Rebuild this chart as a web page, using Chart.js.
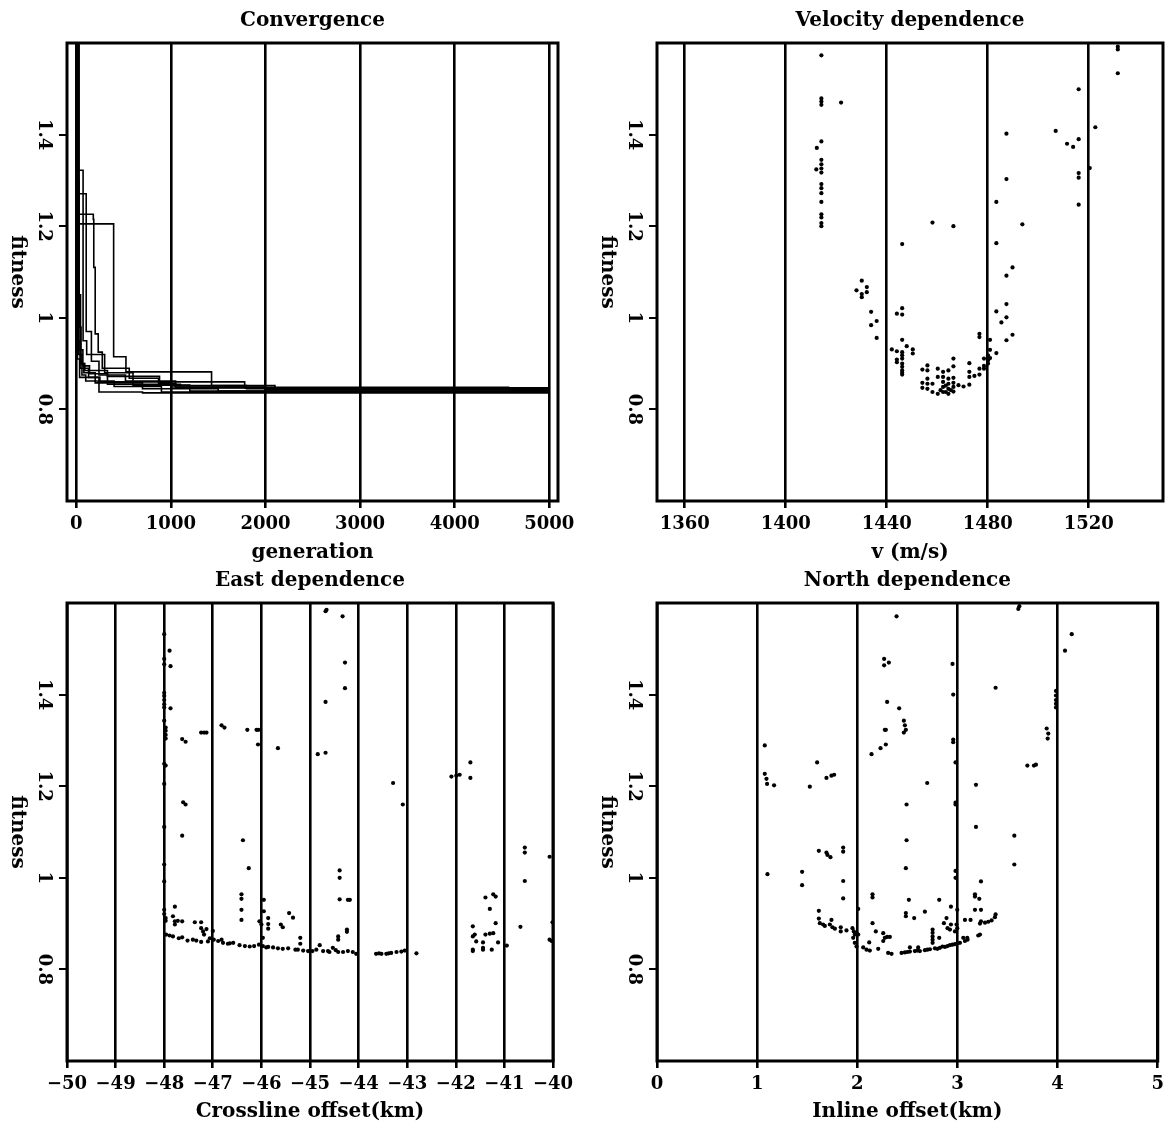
<!DOCTYPE html>
<html>
<head>
<meta charset="utf-8">
<script src="https://cdn.jsdelivr.net/npm/chart.js@4.4.1/dist/chart.umd.min.js"></script>
<style>
body { margin: 0; background: #fff; width: 1168px; height: 1126px; position: relative; overflow: hidden; }
canvas { position: absolute; }
</style>
</head>
<body>
<canvas id="conv" width="584" height="563" style="left:0;top:0"></canvas>
<canvas id="vel" width="578" height="563" style="left:590px;top:0"></canvas>
<canvas id="east" width="584" height="566" style="left:0;top:560px"></canvas>
<canvas id="north" width="580" height="566" style="left:590px;top:560px"></canvas>
<script>
// fitness axis, shared by all four panels
var fitTicks = [0.8, 1, 1.2, 1.4];
var fitLabels = ['0.8', '1', '1.2', '1.4'];

// Convergence: [generation, best fitness] for each run (steps)
var run1 = [[0, 2.2], [10, 1.205], [395, 0.915], [525, 0.882], [1430, 0.852], [1800, 0.845], [5000, 0.845]];
var run2 = [[0, 2.2], [8, 1.226], [180, 1.215], [185, 1.11], [200, 0.965], [232, 0.925], [275, 0.89], [560, 0.868], [870, 0.857], [1050, 0.852], [2100, 0.846], [5000, 0.846]];
var run3 = [[0, 2.2], [5, 1.322], [72, 0.95], [110, 0.92], [300, 0.88], [600, 0.86], [1780, 0.847], [5000, 0.847]];
var run4 = [[0, 2.2], [6, 1.271], [105, 0.97], [160, 0.905], [240, 0.875], [520, 0.862], [1050, 0.848], [4570, 0.842], [5000, 0.842]];
var run5 = [[0, 2.2], [20, 1.05], [45, 0.9], [90, 0.885], [330, 0.872], [880, 0.858], [1000, 0.849], [2000, 0.843], [5000, 0.843]];
var run6 = [[0, 2.2], [15, 0.95], [40, 0.89], [130, 0.87], [250, 0.86], [600, 0.853], [1200, 0.84], [5000, 0.84]];
var run7 = [[0, 2.2], [25, 0.92], [60, 0.875], [100, 0.862], [400, 0.85], [900, 0.838], [5000, 0.838]];
var run8 = [[0, 2.2], [12, 0.91], [35, 0.87], [240, 0.838], [700, 0.836], [5000, 0.836]];
var run9 = [[0, 2.2], [30, 0.98], [50, 0.9], [80, 0.88], [200, 0.858], [700, 0.845], [1500, 0.84], [5000, 0.84]];
var run10 = [[0, 2.2], [18, 1.3], [28, 0.93], [70, 0.895], [140, 0.878], [330, 0.855], [1100, 0.847], [4570, 0.844], [5000, 0.844]];
var genTicks = [0, 1000, 2000, 3000, 4000, 5000];
var genLabels = ['0', '1000', '2000', '3000', '4000', '5000'];

// Velocity dependence: [v (m/s), fitness]
var velPts = [[1414.1,1.573],[1414.1,1.479],[1414.1,1.472],[1414.1,1.465],[1421.9,1.470],[1414.1,1.385],[1412.3,1.371],
  [1414.1,1.345],[1414.1,1.335],[1414.1,1.326],[1414.1,1.317],[1412.1,1.324],[1414.1,1.292],[1414.1,1.283],[1414.1,1.272],
  [1414.1,1.253],[1414.1,1.226],[1414.1,1.219],[1414.1,1.207],[1414.1,1.200],[1446.1,1.161],[1458.1,1.208],[1466.4,1.200],
  [1430.1,1.081],[1428.0,1.060],[1430.1,1.052],[1430.1,1.045],[1432.1,1.067],[1432.1,1.056],[1433.8,1.013],[1433.8,0.984],
  [1436.0,0.993],[1436.0,0.956],[1444.0,1.009],[1446.1,1.021],[1446.1,1.007],[1446.1,0.952],[1442.0,0.931],[1444.0,0.927],
  [1444.0,0.909],[1444.0,0.903],[1446.1,0.925],[1446.1,0.918],[1446.1,0.911],[1446.1,0.900],[1446.1,0.893],[1446.1,0.885],
  [1446.1,0.880],[1446.1,0.876],[1447.9,0.938],[1450.3,0.931],[1450.3,0.922],[1454.1,0.887],[1456.1,0.896],[1456.1,0.885],
  [1454.1,0.858],[1454.1,0.847],[1456.1,0.867],[1456.1,0.856],[1456.1,0.845],[1458.1,0.856],[1458.1,0.838],[1460.2,0.889],
  [1460.2,0.871],[1460.2,0.834],[1462.3,0.882],[1462.3,0.871],[1462.3,0.860],[1462.3,0.849],[1462.3,0.838],[1464.4,0.885],
  [1464.4,0.867],[1464.4,0.856],[1464.4,0.845],[1464.4,0.834],[1466.4,0.911],[1466.4,0.894],[1466.4,0.869],[1466.4,0.858],
  [1466.4,0.849],[1466.4,0.839],[1468.4,0.853],[1470.4,0.850],[1472.7,0.901],[1472.7,0.882],[1472.7,0.871],[1472.7,0.854],
  [1474.7,0.873],[1476.7,0.965],[1476.7,0.958],[1476.7,0.889],[1476.7,0.876],[1478.5,0.911],[1478.5,0.895],[1478.5,0.889],
  [1480.1,0.918],[1480.1,0.907],[1480.1,0.900],[1480.9,0.952],[1480.9,0.930],[1480.9,0.912],[1483.4,1.253],[1483.4,1.163],
  [1483.4,1.014],[1483.4,0.923],[1485.4,0.990],[1487.4,1.402],[1487.4,1.303],[1487.4,1.092],[1487.4,1.030],[1487.4,1.001],
  [1487.4,0.951],[1489.8,1.110],[1489.8,0.963],[1493.7,1.204],[1506.9,1.408],[1511.4,1.380],[1513.8,1.373],[1516.0,1.499],
  [1516.0,1.390],[1516.0,1.316],[1516.0,1.306],[1516.0,1.247],[1520.4,1.327],[1522.6,1.416],[1531.5,1.592],[1531.5,1.586],
  [1531.5,1.534],[1461.3,0.842],[1463.4,0.852],[1465.4,0.842],[1463.4,0.838]];
var velTicks = [1360, 1400, 1440, 1480, 1520];
var velLabels = ['1360', '1400', '1440', '1480', '1520'];

// East dependence: [crossline offset (km), fitness]
var eastPts = [[-48.00,1.532],[-48.00,1.478],[-48.00,1.466],[-47.89,1.496],[-47.87,1.462],[-48.00,1.404],[-48.00,1.397],
  [-48.00,1.388],[-48.00,1.379],[-48.00,1.372],[-47.87,1.370],[-48.00,1.343],[-47.97,1.328],[-47.97,1.321],[-47.97,1.312],
  [-47.97,1.304],[-48.00,1.249],[-47.97,1.245],[-48.00,1.205],[-48.00,1.111],[-48.00,1.029],[-48.00,0.992],[-48.00,0.930],
  [-48.00,0.921],[-47.97,0.912],[-47.97,0.906],[-47.78,0.937],[-47.82,0.916],[-47.78,0.905],[-47.78,0.898],[-47.72,0.906],
  [-47.63,0.905],[-47.96,0.876],[-47.89,0.874],[-47.82,0.872],[-47.63,1.303],[-47.56,1.297],[-47.61,1.165],[-47.56,1.160],
  [-47.63,1.092],[-47.63,0.870],[-47.52,0.863],[-47.41,0.865],[-47.34,0.863],[-47.37,0.903],[-47.24,0.903],[-47.24,0.890],
  [-47.20,0.883],[-47.18,0.876],[-47.24,0.860],[-47.24,1.317],[-47.18,1.317],[-47.13,1.317],[-47.13,0.888],[-47.00,0.884],
  [-47.06,0.868],[-46.98,0.865],[-46.89,0.862],[-46.82,0.865],[-46.79,0.858],[-46.69,0.856],[-46.58,0.858],[-46.45,0.853],
  [-46.34,0.851],[-46.24,0.850],[-46.82,1.333],[-46.76,1.328],[-46.29,1.323],[-46.10,1.323],[-46.06,1.323],[-46.07,1.291],
  [-46.38,1.082],[-46.26,1.021],[-46.41,0.964],[-46.41,0.954],[-46.41,0.930],[-46.41,0.908],[-46.04,0.905],[-46.00,0.898],
  [-45.95,0.952],[-45.95,0.927],[-45.86,0.912],[-45.86,0.899],[-45.86,0.889],[-45.97,0.869],[-46.05,0.854],[-45.97,0.851],
  [-45.86,0.849],[-45.76,0.848],[-45.66,0.846],[-45.56,0.845],[-45.45,0.846],[-45.66,1.283],[-45.60,0.898],[-45.56,0.892],
  [-45.43,0.923],[-45.35,0.913],[-45.20,0.869],[-45.20,0.856],[-45.25,0.843],[-45.14,0.841],[-45.04,0.840],[-44.84,1.270],
  [-44.68,1.273],[-44.68,1.384],[-44.66,1.585],[-44.68,1.582],[-44.33,1.571],[-44.28,1.470],[-44.28,1.414],[-44.87,0.843],
  [-44.80,0.853],[-44.73,0.840],[-44.63,0.840],[-44.53,0.847],[-44.42,0.838],[-44.32,0.838],[-44.22,0.840],[-44.12,0.838],
  [-44.05,0.834],[-44.39,1.016],[-44.39,1.000],[-44.39,0.953],[-44.22,0.952],[-44.18,0.952],[-44.24,0.887],[-44.24,0.882],
  [-44.42,0.872],[-44.42,0.865],[-43.64,0.834],[-43.53,0.834],[-43.43,0.834],[-43.33,0.836],[-43.22,0.838],[-43.12,0.839],
  [-43.05,0.841],[-42.81,0.835],[-43.29,1.207],[-43.09,1.160],[-42.09,1.221],[-41.99,1.223],[-41.92,1.225],[-41.70,1.252],
  [-41.70,1.218],[-41.65,0.894],[-41.61,0.876],[-41.65,0.872],[-41.58,0.861],[-41.65,0.843],[-41.65,0.840],[-41.44,0.859],
  [-41.44,0.847],[-41.44,0.843],[-41.39,0.876],[-41.30,0.878],[-41.23,0.879],[-41.39,0.957],[-41.23,0.964],[-41.18,0.959],
  [-41.30,0.932],[-41.18,0.901],[-41.26,0.843],[-41.13,0.859],[-40.95,0.852],[-40.67,0.893],[-40.58,1.066],[-40.58,1.055],
  [-40.58,0.993],[-40.07,1.046],[-40.07,0.865],[-40.03,0.862],[-40.01,0.903],[-47.70,0.868],[-47.10,0.861],[-46.65,0.857],
  [-46.15,0.851],[-45.90,0.848],[-45.30,0.843],[-44.95,0.840],[-44.60,0.838],[-44.47,0.842],[-43.58,0.835],[-43.38,0.835]];
var eastTicks = [-50, -49, -48, -47, -46, -45, -44, -43, -42, -41, -40];
var eastLabels = ['\u221250', '\u221249', '\u221248', '\u221247', '\u221246', '\u221245', '\u221244', '\u221243', '\u221242', '\u221241', '\u221240'];

// North dependence: [inline offset (km), fitness]
var northPts = [[1.076,1.289],[1.076,1.227],[1.093,1.216],[1.099,1.205],[1.169,1.202],[1.103,1.008],[1.449,1.013],[1.449,0.984],
  [1.526,1.199],[1.599,1.252],[1.616,1.059],[1.692,1.218],[1.742,1.223],[1.769,1.225],[1.692,1.055],[1.702,1.050],[1.732,1.045],
  [1.859,1.066],[1.859,1.057],[1.859,0.993],[1.859,0.955],[1.616,0.928],[1.616,0.911],[1.626,0.901],[1.659,0.898],[1.676,0.895],
  [1.742,0.908],[1.726,0.898],[1.752,0.892],[1.776,0.889],[1.835,0.892],[1.835,0.883],[1.892,0.885],[1.952,0.890],[1.965,0.883],
  [1.975,0.876],[1.992,0.880],[2.009,0.876],[1.959,0.869],[1.975,0.858],[1.992,0.850],[2.009,0.932],[2.059,0.848],[2.092,0.843],
  [2.125,0.841],[2.209,0.845],[2.119,0.859],[2.142,1.270],[2.152,0.964],[2.152,0.957],[2.152,0.901],[2.185,0.883],[2.232,1.283],
  [2.268,1.478],[2.268,1.464],[2.315,1.470],[2.298,1.384],[2.275,1.323],[2.285,1.323],[2.285,1.291],[2.259,0.879],[2.275,0.869],
  [2.298,0.871],[2.325,0.871],[2.259,0.862],[2.308,0.836],[2.342,0.834],[2.392,1.571],[2.418,1.370],[2.465,1.343],[2.475,1.333],
  [2.465,1.317],[2.485,1.323],[2.492,1.160],[2.492,1.082],[2.485,1.021],[2.515,0.952],[2.485,0.923],[2.485,0.916],[2.568,0.912],
  [2.442,0.836],[2.475,0.837],[2.525,0.839],[2.575,0.840],[2.625,0.840],[2.675,0.842],[2.725,0.844],[2.775,0.846],[2.825,0.847],
  [2.875,0.849],[2.925,0.853],[2.975,0.855],[3.025,0.858],[3.075,0.862],[3.101,0.865],[2.525,0.848],[2.608,0.848],[2.675,0.926],
  [2.698,1.207],[2.752,0.887],[2.752,0.880],[2.752,0.872],[2.752,0.865],[2.752,0.858],[2.818,0.952],[2.818,0.869],[2.865,0.901],
  [2.891,0.912],[2.901,0.890],[2.925,0.887],[2.935,0.937],[2.935,0.898],[2.951,1.467],[2.958,1.400],[2.958,1.302],[2.958,1.296],
  [2.981,1.252],[2.981,1.164],[2.981,1.160],[2.981,1.015],[2.981,1.000],[2.998,0.930],[2.991,0.898],[2.998,0.890],[2.975,0.883],
  [3.058,0.869],[3.098,0.869],[3.075,0.908],[3.131,0.908],[3.185,1.203],[3.185,1.111],[3.175,0.964],[3.175,0.959],[3.175,0.930],
  [3.218,0.954],[3.235,0.992],[3.235,0.930],[3.235,0.905],[3.225,0.900],[3.275,0.902],[3.308,0.904],[3.341,0.907],[3.374,0.914],
  [3.381,0.920],[3.208,0.874],[3.225,0.876],[3.381,1.415],[3.568,1.092],[3.568,1.029],[3.608,1.587],[3.618,1.593],[3.698,1.245],
  [3.764,1.245],[3.784,1.247],[3.891,1.326],[3.907,1.315],[3.901,1.304],[3.984,1.408],[3.984,1.398],[3.984,1.388],[3.984,1.380],
  [3.984,1.372],[4.074,1.496],[4.141,1.532],[2.80,0.845],[2.85,0.850],[2.90,0.851],[2.95,0.854],[3.00,0.857],[2.70,0.843],
  [2.60,0.841],[2.50,0.838]];
var northTicks = [0, 1, 2, 3, 4, 5];
var northLabels = ['0', '1', '2', '3', '4', '5'];

var FONT = '"DejaVu Serif", serif';
Chart.defaults.font.family = FONT;
Chart.defaults.color = '#000';

// box round the plot, and the y labels turned to read downwards
var framePlugin = {
    id: 'frame',
    afterDraw: function (chart) {
        var ctx = chart.ctx;
        var a = chart.chartArea;
        var y = chart.scales.y;
        ctx.save();
        ctx.strokeStyle = '#000';
        ctx.lineWidth = 3;
        ctx.strokeRect(a.left, a.top, a.right - a.left, a.bottom - a.top);
        ctx.fillStyle = '#000';
        ctx.textAlign = 'center';
        ctx.textBaseline = 'middle';
        ctx.font = 'bold 18px ' + FONT;
        for (var i = 0; i < fitTicks.length; i++) {
            ctx.save();
            ctx.translate(44, y.getPixelForValue(fitTicks[i]));
            ctx.rotate(Math.PI / 2);
            ctx.fillText(fitLabels[i], 0, 0);
            ctx.restore();
        }
        ctx.font = 'bold 20px ' + FONT;
        ctx.translate(17, (a.top + a.bottom) / 2);
        ctx.rotate(Math.PI / 2);
        ctx.fillText('fitness', 0, 0);
        ctx.restore();
    }
};

function toXY(pts) {
    return pts.map(function (p) { return { x: p[0], y: p[1] }; });
}

function makeChart(id, title, xTitle, xMin, xMax, xTicks, xLabels, padRight, padBottom, xHeight, datasets) {
    var ctx = document.getElementById(id).getContext('2d');
    return new Chart(ctx, {
        type: 'scatter',
        data: { datasets: datasets },
        plugins: [framePlugin],
        options: {
            responsive: false,
            animation: false,
            devicePixelRatio: 1,
            layout: { padding: { left: 0, right: padRight, top: 0, bottom: padBottom } },
            plugins: {
                legend: { display: false },
                tooltip: { enabled: false },
                title: {
                    display: true, text: title, fullSize: false, color: '#000',
                    font: { size: 20, weight: 'bold', lineHeight: 1 },
                    padding: { top: 11, bottom: 12 }
                }
            },
            scales: {
                x: {
                    type: 'linear', min: xMin, max: xMax,
                    afterBuildTicks: function (s) { s.ticks = xTicks.map(function (v) { return { value: v }; }); },
                    afterFit: function (s) { s.height = xHeight; },
                    grid: { color: '#000', lineWidth: 2.6, tickLength: 7, drawTicks: true },
                    border: { display: false },
                    ticks: {
                        autoSkip: false, maxRotation: 0, minRotation: 0, padding: 6, color: '#000',
                        font: { size: 18, weight: 'bold' },
                        callback: function (v, i) { return xLabels[i]; }
                    },
                    title: {
                        display: true, text: xTitle, color: '#000',
                        font: { size: 20, weight: 'bold', lineHeight: 1 },
                        padding: { top: 0, bottom: 0 }
                    }
                },
                y: {
                    type: 'linear', min: 0.6, max: 1.6,
                    afterBuildTicks: function (s) { s.ticks = fitTicks.map(function (v) { return { value: v }; }); },
                    afterFit: function (s) { s.width = 67; },
                    grid: { drawOnChartArea: false, color: '#000', lineWidth: 2, tickLength: 8 },
                    border: { display: false },
                    ticks: { display: false }
                }
            }
        }
    });
}

function dots(pts) {
    return [{
        data: toXY(pts), showLine: false, pointRadius: 2.1, pointHoverRadius: 0,
        pointBackgroundColor: '#000', pointBorderWidth: 0
    }];
}

var runs = [run1, run2, run3, run4, run5, run6, run7, run8, run9, run10];
var convSets = runs.map(function (r) {
    return {
        data: toXY(r), showLine: true, stepped: true, borderColor: '#000',
        borderWidth: 1.6, pointRadius: 0, pointHoverRadius: 0, fill: false
    };
});

makeChart('conv', 'Convergence', 'generation', -98, 5092, genTicks, genLabels, 26, 0, 62, convSets);
makeChart('vel', 'Velocity dependence', 'v (m/s)', 1349, 1549.4, velTicks, velLabels, 5, 0, 62, dots(velPts));
makeChart('east', 'East dependence', 'Crossline offset(km)', -50, -40, eastTicks, eastLabels, 31, 4, 61, dots(eastPts));
makeChart('north', 'North dependence', 'Inline offset(km)', 0, 5, northTicks, northLabels, 12, 4, 61, dots(northPts));
</script>
</body>
</html>
